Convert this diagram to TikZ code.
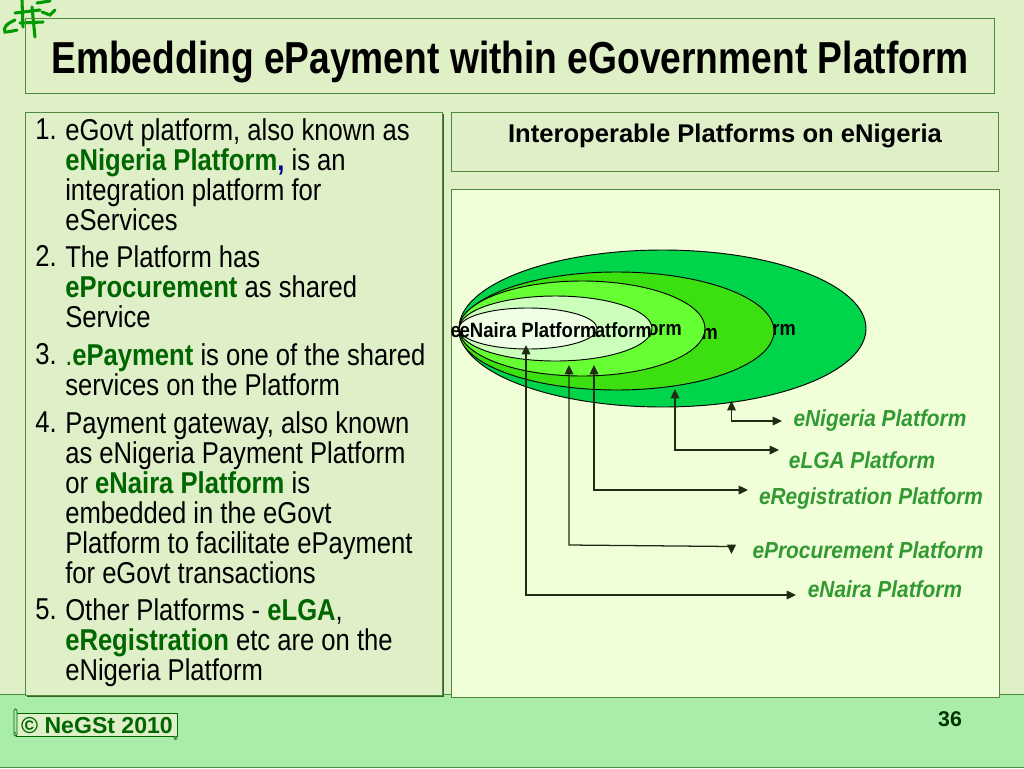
\documentclass[tikz,border=0pt]{standalone}
\usepackage{fontspec}
\usetikzlibrary{arrows.meta,positioning,shapes.geometric}
\setmainfont{Liberation Sans}
\newfontfamily\narrowf[FakeStretch=0.83]{Liberation Sans}
\newfontfamily\itemf[FakeStretch=0.85]{Liberation Sans}
\newfontfamily\ringf[FakeStretch=0.88]{Liberation Sans}
\newfontfamily\labf[FakeStretch=0.90]{Liberation Sans}
\definecolor{bgc}{HTML}{DFF0C6}
\definecolor{linec}{HTML}{4F8A3C}
\definecolor{leftc}{HTML}{DFEFC8}
\definecolor{rightc}{HTML}{F0FFD8}
\definecolor{footc}{HTML}{A9EDA9}
\definecolor{darkg}{HTML}{006600}
\definecolor{labelg}{HTML}{339933}
\definecolor{ea}{HTML}{00D44A}
\definecolor{eb}{HTML}{3CE010}
\definecolor{ec}{HTML}{66FF33}
\definecolor{ed}{HTML}{CCFFBB}
\definecolor{ee}{HTML}{EEFFE6}
\definecolor{connc}{HTML}{222A14}
\tikzset{
 x=0.75pt,y=-0.75pt,
 panel/.style={draw=linec,line width=0.75pt},
 ell/.style={draw=black,line width=0.7pt,ellipse,inner sep=0pt},
 ringtext/.style={font=\ringf\fontsize{15.5pt}{16pt}\selectfont\bfseries,inner sep=0pt,text=black},
 lab/.style={font=\labf\fontsize{17.4pt}{18pt}\selectfont\bfseries\itshape,text=labelg,inner sep=0pt},
 item/.style={font=\itemf\fontsize{22.6pt}{22.5pt}\selectfont,inner sep=0pt,anchor=north west,align=left,text=black},
 conn/.style={draw=connc,line width=0.95pt,{Triangle[length=7pt,width=6.5pt]}-{Triangle[length=7pt,width=6.5pt]}},
 logo/.style={draw=green!60!black,line width=2.3pt,line cap=round}
}
\newcommand{\gr}[1]{\textcolor{darkg}{\textbf{#1}}}
\begin{document}
\begin{tikzpicture}
\useasboundingbox (0,0) rectangle (1024,768);
\fill[bgc] (0,0) rectangle (1024,768);
\draw[linec,fill=footc,line width=0.75pt] (-2,694) rectangle (1026,767);
% logo
\draw[logo] (15,20) .. controls (6,24) and (3,28) .. (5,32) .. controls (8,32) and (13,31) .. (17,30);
\draw[logo] (15,13) -- (40,10);
\draw[logo] (20,23) -- (43,22);
\draw[logo] (22,0) -- (23,27);
\draw[logo] (32,7) -- (35,37);
\draw[logo] (37,3) -- (50,1);
\draw[logo] (42,12) -- (50,15) -- (55,10);
% title
\draw[panel] (25,18) rectangle (994,93);
\node[inner sep=0pt,font=\narrowf\fontsize{33.6pt}{36pt}\selectfont\bfseries] (title) at (510,62) {Embedding ePayment within eGovernment Platform};
% left panel
\fill[linec!70!black] (27,114) rectangle (444,697);
\draw[panel,fill=leftc] (25,112) rectangle (442,695);
\node[item] (n1) at (35,118) {1.};
\node[item] (t1) at (65,118) {eGovt platform, also known as\\\gr{eNigeria Platform\textcolor{blue!60!black}{,}} is an\\integration platform for\\eServices};
\node[item] (n2) at (35,245) {2.};
\node[item] (t2) at (65,245) {The Platform has\\\gr{eProcurement} as shared\\Service};
\node[item] (n3) at (35,343) {3.};
\node[item] (t3) at (65,343) {\textcolor{darkg}{.}\gr{ePayment} is one of the shared\\services on the Platform};
\node[item] (n4) at (35,411.5) {4.};
\node[item] (t4) at (65,411.5) {Payment gateway, also known\\as eNigeria Payment Platform\\or \gr{eNaira Platform} is\\embedded in the eGovt\\Platform to facilitate ePayment\\for eGovt transactions};
\node[item] (n5) at (35,598.5) {5.};
\node[item] (t5) at (65,598.5) {Other Platforms - \gr{eLGA},\\\gr{eRegistration} etc are on the\\eNigeria Platform};
% right panels
\draw[panel,fill=leftc] (451,112) rectangle (998,171);
\node[inner sep=0pt,font=\fontsize{19.2pt}{22pt}\selectfont\bfseries] (hdr) at (725,136) {Interoperable Platforms on eNigeria};
\draw[panel,fill=rightc] (451,189) rectangle (999,697);
% nested ellipses
\node[ell,fill=ea,minimum width=407*0.75pt,minimum height=157*0.75pt] (e1) at (662.5,328.5) {};
\node[ringtext,anchor=east] (x1) at (796,330) {eNigeria Platform};
\node[ell,fill=eb,minimum width=315*0.75pt,minimum height=118*0.75pt] (e2) at (616.5,331) {};
\node[ringtext,anchor=east] (x2) at (718,332) {eLGA Platform};
\node[ell,fill=ec,minimum width=246*0.75pt,minimum height=95*0.75pt] (e3) at (582,328.5) {};
\node[ringtext,anchor=east] (x3) at (682,330) {eRegistration Platform};
\node[ell,fill=ed,minimum width=193*0.75pt,minimum height=65*0.75pt] (e4) at (555.5,328.5) {};
\node[ringtext,anchor=east] (x4) at (652,330) {eProcurement Platform};
\node[ell,fill=ee,minimum width=138*0.75pt,minimum height=41*0.75pt] (e5) at (528,328.5) {};
\node[ringtext,anchor=east] (x5) at (597,330) {\scalebox{1.02}[1]{eNaira Platform}};
% labels
\node[lab] (l1) at (880,420) {eNigeria Platform};
\node[lab] (l2) at (862,460) {eLGA Platform};
\node[lab] (l3) at (871,498) {eRegistration Platform};
\node[lab] (l4) at (868,550) {eProcurement Platform};
\node[lab] (l5) at (885,589) {eNaira Platform};
% connector ends
\coordinate (a1) at (731.5,401); \coordinate (b1) at (731.5,421); \coordinate (c1) at (782,421);
\coordinate (a2) at (675,389); \coordinate (b2) at (675,450); \coordinate (c2) at (779,450);
\coordinate (a3) at (594,365); \coordinate (b3) at (594,490); \coordinate (c3) at (748,490);
\coordinate (a4) at (569,365); \coordinate (b4) at (569,545); \coordinate (d4) at (731.5,546.5); \coordinate (c4) at (731.5,554);
\coordinate (a5) at (526,345); \coordinate (b5) at (526,595); \coordinate (c5) at (796,595);
\draw[conn] (a1) -- (b1) -- (c1);
\draw[conn] (a2) -- (b2) -- (c2);
\draw[conn] (a3) -- (b3) -- (c3);
\draw[conn] (a4) -- (b4) -- (d4) -- (c4);
\draw[conn] (a5) -- (b5) -- (c5);
% footer
\draw[draw=darkg,fill=leftc,line width=0.6pt] (16,713) rectangle (177,736);
\draw[draw=darkg,fill=footc,line width=0.6pt,rounded corners=1pt] (14,709) rectangle (17,736);
\fill[darkg!70] (175.5,738) circle (2);
\fill[darkg!70] (15,733) circle (1.5);
\node[inner sep=0pt,font=\fontsize{17.3pt}{20pt}\selectfont\bfseries,text=darkg] (foot) at (97,726) {© NeGSt 2010};
\node[inner sep=0pt,font=\fontsize{16pt}{18pt}\selectfont\bfseries,text=darkg!50!black] (pg) at (950,719) {36};
\end{tikzpicture}
\end{document}
